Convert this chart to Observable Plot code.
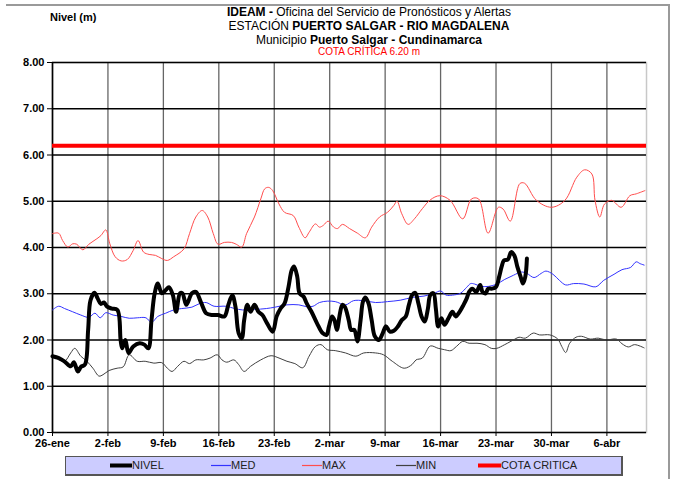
<!DOCTYPE html>
<html>
<head>
<meta charset="utf-8">
<script src="https://cdn.jsdelivr.net/npm/d3@7"></script>
<script src="https://cdn.jsdelivr.net/npm/@observablehq/plot@0.6"></script>
<style>
  html, body { margin: 0; padding: 0; background: #fff; }
  #wrap { position: relative; width: 676px; height: 479px; font-family: "Liberation Sans", Arial, sans-serif; color: #000; overflow: hidden; }
  #wrap > svg { position: absolute; left: 0; top: 0; }
  .abs { position: absolute; white-space: nowrap; }
  .title { left: 119px; width: 500px; text-align: center; font-size: 12px; line-height: 14px; }
  .border { position: absolute; background: #9a9a9a; }
  #legend { position: absolute; left: 65px; top: 456px; width: 555px; height: 17px; background: #CCCCFF; border: 1px solid #555; border-right-width: 2px; border-bottom-width: 2px; }
  .li { position: absolute; top: 0; height: 17px; font-size: 11px; line-height: 17px; color: #222; }
  .sw { position: absolute; top: 0; }
</style>
</head>
<body>
<div id="wrap"></div>
<script>
// ---- Data (days after 26-ene, values in metres) ----
const startDate = Date.UTC(2021, 0, 26);
const tickLabels = ["26-ene","2-feb","9-feb","16-feb","23-feb","2-mar","9-mar","16-mar","23-mar","30-mar","6-abr"];
const cotaCritica = 6.20;

const nivelDays = [0,0.8,1.5,2.3,2.7,3.2,3.6,4.1,4.5,4.8,5.3,5.7,6.1,6.5,6.9,7.5,8.2,8.6,8.8,9.2,9.6,10.2,11.0,11.6,12.1,12.5,12.9,13.3,13.8,14.3,14.7,15.2,15.6,16.1,16.4,16.9,17.6,18.1,18.8,19.4,20.2,20.9,21.7,22.2,22.7,23.1,23.5,23.9,24.2,24.6,25.0,25.5,26.0,26.5,27.1,27.8,28.3,28.8,29.3,29.8,30.2,30.5,30.9,31.2,31.7,32.1,32.7,33.4,34.1,34.6,34.9,35.3,35.6,35.9,36.3,36.6,36.9,37.4,37.7,38.1,38.5,38.9,39.2,39.5,39.9,40.3,40.7,41.2,41.7,42.1,42.6,43.1,43.6,44.1,44.6,45.0,45.4,45.8,46.2,46.6,47.0,47.4,47.7,48.1,48.4,48.7,49.1,49.5,50.0,50.5,50.9,51.4,51.9,52.3,52.6,53.0,53.5,54.0,54.3,54.7,55.0,55.5,56.0,56.4,56.7,57.0,57.5,57.9,58.3,58.7,59.1,59.4,59.7,59.9];
const nivelValues = [1.65,1.61,1.54,1.43,1.52,1.32,1.42,1.47,2.22,2.86,3.02,2.90,2.78,2.81,2.72,2.68,2.65,2.00,1.82,2.00,1.72,1.86,1.93,1.90,1.82,2.43,3.01,3.22,3.01,3.08,3.14,2.97,2.61,3.01,3.01,2.76,3.01,3.04,2.79,2.58,2.54,2.54,2.51,2.76,2.97,2.72,2.15,2.04,2.43,2.76,2.61,2.76,2.61,2.54,2.36,2.18,2.51,2.68,2.79,3.15,3.51,3.59,3.37,3.01,2.94,2.79,2.61,2.36,2.15,2.11,2.29,2.51,2.43,2.22,2.58,2.76,2.72,2.43,2.22,2.22,1.97,2.43,2.83,2.92,2.79,2.43,2.08,2.00,2.15,2.30,2.18,2.20,2.29,2.43,2.51,2.76,2.97,3.02,2.79,2.51,2.40,2.68,2.97,3.01,2.68,2.29,2.47,2.33,2.47,2.61,2.51,2.61,2.76,2.90,3.04,3.11,3.04,3.19,3.04,3.01,3.11,3.11,3.15,3.37,3.58,3.72,3.74,3.90,3.83,3.58,3.37,3.22,3.37,3.76];

const medDays = [0,0.77,1.53,2.55,3.57,4.59,5.36,6.02,6.73,7.65,8.67,9.69,10.7,11.8,12.5,13.3,14.3,15.3,16.3,17.6,18.6,19.4,20.4,21.9,23.0,24.0,25.5,27.0,28.1,29.6,31.1,32.1,32.9,33.7,34.7,35.7,37.0,38.0,39.3,40.8,42.3,43.9,45.4,46.9,48.2,49.0,49.7,50.5,51.5,52.3,52.8,53.3,54.1,55.1,56.1,57.1,58.2,59.2,59.9,60.8,61.7,62.3,63.2,64.0,64.8,65.8,67.1,68.6,69.6,70.9,71.9,73.0,73.7,74.2,74.7];
const medValues = [2.65,2.73,2.68,2.61,2.54,2.49,2.58,2.48,2.59,2.54,2.51,2.47,2.48,2.48,2.38,2.51,2.58,2.65,2.68,2.71,2.79,2.81,2.73,2.73,2.68,2.65,2.66,2.68,2.71,2.76,2.76,2.72,2.73,2.81,2.84,2.83,2.76,2.85,2.85,2.81,2.83,2.86,2.92,2.95,3.01,3.06,2.97,2.97,3.01,3.14,3.22,3.21,3.16,3.16,3.21,3.31,3.40,3.47,3.44,3.35,3.44,3.49,3.42,3.29,3.19,3.22,3.21,3.15,3.29,3.42,3.52,3.57,3.69,3.65,3.62];

const maxDays = [0,0.77,1.28,1.94,2.55,3.06,3.83,4.59,5.61,6.12,6.73,7.24,7.91,8.67,9.44,10.2,10.8,11.5,12.2,13.0,13.8,14.5,15.3,16.6,17.3,18.1,18.9,19.6,20.3,20.9,21.7,22.6,23.2,23.9,24.5,25.5,26.3,26.8,27.3,27.8,28.6,29.3,30.4,31.1,31.9,32.4,33.2,33.7,34.2,34.8,35.5,36.0,36.6,37.5,38.5,39.5,40.3,41.3,42.3,43.1,43.5,44.1,44.9,45.7,46.7,47.7,48.9,50.2,51.8,52.9,53.8,55.0,56.3,56.9,57.8,59.0,59.6,61.1,63.0,64.7,66.2,67.2,68.1,68.5,69.1,69.7,70.6,71.8,72.9,73.7,74.8];
const maxValues = [4.30,4.31,4.15,4.01,4.08,4.07,3.95,4.07,4.19,4.26,4.38,4.08,3.80,3.71,3.74,3.94,4.15,3.90,3.85,3.83,3.76,3.72,3.80,3.97,4.30,4.66,4.80,4.66,4.30,4.07,4.11,4.11,4.07,4.01,4.30,4.66,5.05,5.27,5.30,5.23,4.94,4.76,4.69,4.44,4.21,4.33,4.51,4.44,4.48,4.57,4.44,4.41,4.50,4.41,4.31,4.21,4.44,4.66,4.76,4.91,5.00,4.73,4.50,4.62,4.84,5.03,5.12,5.02,4.62,5.05,5.05,4.31,4.87,4.83,4.57,5.38,5.39,5.02,4.87,5.02,5.52,5.68,5.59,5.02,4.66,4.94,5.02,4.87,5.12,5.16,5.23];

const minDays = [0,0.77,1.53,2.30,2.81,3.57,4.34,5.10,5.87,6.38,7.14,8.16,8.93,9.69,10.7,11.7,12.8,13.8,14.5,15.1,15.8,16.6,17.3,18.1,19.1,19.9,20.8,21.4,22.0,22.9,23.5,24.2,25.0,26.3,27.6,28.6,29.6,30.6,31.6,32.4,33.2,33.9,34.7,35.7,37.0,38.3,39.3,40.8,41.8,42.9,44.4,45.4,45.9,46.7,47.7,48.7,49.5,50.3,51.0,51.8,52.6,53.6,54.6,55.4,56.1,57.1,58.4,58.9,59.7,60.7,61.5,62.8,63.8,64.3,64.8,65.3,66.1,66.8,67.9,68.9,69.9,71.2,71.9,72.7,73.5,74.7];
const minValues = [1.67,1.57,1.54,1.72,1.82,1.65,1.54,1.39,1.22,1.25,1.34,1.39,1.42,1.68,1.54,1.54,1.50,1.51,1.39,1.32,1.43,1.54,1.49,1.57,1.57,1.61,1.68,1.57,1.52,1.57,1.47,1.32,1.43,1.57,1.66,1.61,1.54,1.49,1.40,1.65,1.86,1.90,1.79,1.77,1.72,1.65,1.72,1.72,1.68,1.54,1.39,1.47,1.57,1.61,1.87,1.82,1.79,1.77,1.86,1.97,1.93,1.93,1.90,1.82,1.82,1.90,2.02,2.06,2.04,2.15,2.11,2.11,2.02,1.86,1.73,1.93,2.06,2.08,2.02,2.04,2.00,2.02,1.92,1.85,1.90,1.83];

// ---- Build tables ----
const DAY = 864e5;
const toDate = d => new Date(startDate + d * DAY);
const series = (days, vals) => days.map((d, i) => ({date: toDate(d), value: vals[i]})).filter(r => r.value != null);
const nivel = series(nivelDays, nivelValues);
const med = series(medDays, medValues);
const max = series(maxDays, maxValues);
const min = series(minDays, minValues);
const tickDates = tickLabels.map((_, i) => toDate(7 * i));
const domainX = [toDate(0), toDate(75)];
const fmtX = d => tickLabels[Math.round((+d - startDate) / (7 * DAY))];

const COLORS = {nivel: "#000", med: "#3333ff", max: "#ff4d4d", min: "#404040", cota: "#ff0000"};

const chart = Plot.plot({
  width: 676,
  height: 479,
  marginLeft: 52,
  marginRight: 30,
  marginTop: 62,
  marginBottom: 47,
  style: {fontFamily: "'Liberation Sans', Arial, sans-serif", fontSize: "11px", background: "transparent", color: "#000"},
  x: {type: "utc", domain: domainX},
  y: {domain: [0, 8]},
  marks: [
    Plot.frame({stroke: "#c8c8c8", strokeWidth: 1.5}),
    Plot.gridX(tickDates, {stroke: "#666", strokeOpacity: 1, strokeWidth: 1.3}),
    Plot.gridY(d3.range(0, 9), {stroke: "#000", strokeOpacity: 1, strokeWidth: 1.6}),
    Plot.ruleX([domainX[0]], {stroke: "#000", strokeWidth: 1.5}),
    Plot.axisY({ticks: d3.range(0, 9), tickFormat: d => d.toFixed(2), tickSize: 5, tickPadding: 3, fontWeight: "bold", label: null, stroke: "#000"}),
    Plot.axisX({ticks: tickDates, tickFormat: fmtX, tickSize: 4, tickPadding: 3, fontWeight: "bold", label: null, stroke: "#000"}),
    Plot.ruleY([cotaCritica], {stroke: COLORS.cota, strokeWidth: 4}),
    Plot.line(min, {x: "date", y: "value", stroke: COLORS.min, strokeWidth: 1, curve: "catmull-rom"}),
    Plot.line(max, {x: "date", y: "value", stroke: COLORS.max, strokeWidth: 1, curve: "catmull-rom"}),
    Plot.line(med, {x: "date", y: "value", stroke: COLORS.med, strokeWidth: 1, curve: "catmull-rom"}),
    Plot.line(nivel, {x: "date", y: "value", stroke: COLORS.nivel, strokeWidth: 4, curve: "catmull-rom", strokeLinejoin: "round"})
  ]
});

const wrap = document.getElementById("wrap");
wrap.appendChild(chart);
const swatch = (left, w, color, width) => `<svg class="sw" style="left:${left}px" width="${w}" height="17"><rect x="0" y="${8.5 - width / 2}" width="${w}" height="${width}" fill="${color}"/></svg>`;
wrap.insertAdjacentHTML("beforeend", `
  <div class="border" style="left:6px;top:4px;width:664px;height:2px"></div>
  <div class="border" style="left:668px;top:4px;width:2px;height:475px"></div>
  <div class="abs" style="left:50px;top:11px;font-size:11px;font-weight:bold">Nivel (m)</div>
  <div class="abs title" style="top:5px"><b>IDEAM -</b> Oficina del Servicio de Pronósticos y Alertas</div>
  <div class="abs title" style="top:19px">ESTACIÓN <b>PUERTO SALGAR - RIO MAGDALENA</b></div>
  <div class="abs title" style="top:33px">Municipio <b>Puerto Salgar - Cundinamarca</b></div>
  <div class="abs title" style="top:46px;font-size:10px;line-height:12px;color:#ff0000">COTA CRÍTICA 6.20 m</div>
  <div id="legend">
    ${swatch(44, 22, COLORS.nivel, 4)}
    <div class="li" style="left:66px">NIVEL</div>
    ${swatch(145, 20, COLORS.med, 1.2)}
    <div class="li" style="left:165px">MED</div>
    ${swatch(236, 20, COLORS.max, 1.2)}
    <div class="li" style="left:256px">MAX</div>
    ${swatch(330, 20, COLORS.min, 1.2)}
    <div class="li" style="left:350px">MIN</div>
    ${swatch(412, 23, COLORS.cota, 4)}
    <div class="li" style="left:435px">COTA CRITICA</div>
  </div>
`);
</script>
</body>
</html>
